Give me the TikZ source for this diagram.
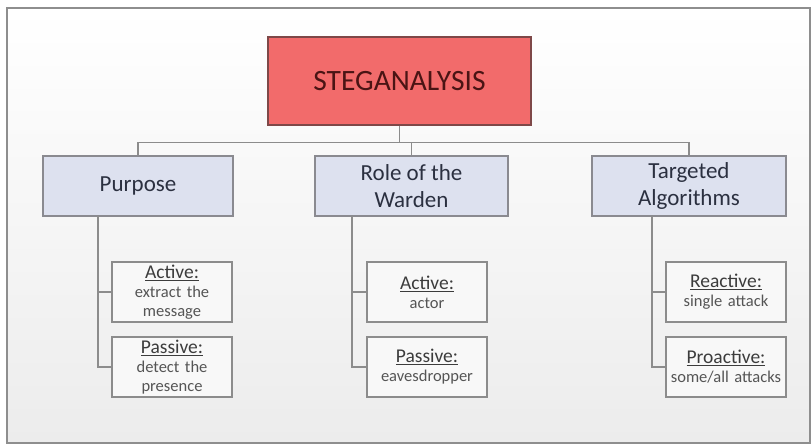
\documentclass[tikz,border=0pt]{standalone}
\usepackage{fontspec}
\setmainfont{Carlito}
\definecolor{titlefill}{HTML}{F26B6B}
\definecolor{titledraw}{HTML}{7E4848}
\definecolor{titletext}{HTML}{4A1414}
\definecolor{catfill}{HTML}{DDE1EF}
\definecolor{catdraw}{HTML}{8A8A90}
\definecolor{cattext}{HTML}{2B3040}
\definecolor{leaffill}{HTML}{F8F8F8}
\definecolor{leafdraw}{HTML}{8C8C8C}
\definecolor{leafhead}{HTML}{3C3C3C}
\definecolor{leafsub}{HTML}{555555}
\definecolor{linkgray}{HTML}{8C8C8C}
\definecolor{framegray}{HTML}{8E8E8E}
\definecolor{bglow}{HTML}{ECECEC}
\newcommand{\leafhd}[1]{{\fontsize{19.5}{19}\selectfont\color{leafhead}\underline{#1}}}
\tikzset{
  titlebox/.style={draw=titledraw, line width=1.6pt, fill=titlefill,
    minimum width=263pt, minimum height=88pt, inner sep=0pt,
    font=\fontsize{29.5}{35}\selectfont, text=titletext},
  catbox/.style={draw=catdraw, line width=1.4pt, fill=catfill,
    minimum height=60pt, inner sep=0pt, align=center,
    font=\fontsize{23}{27.5}\selectfont, text=cattext},
  leafbox/.style={draw=leafdraw, line width=1.3pt, fill=leaffill,
    minimum width=120pt, minimum height=60pt, inner sep=0pt,
    text width=118pt, align=center,
    font=\fontsize{16.5}{19}\selectfont, text=leafsub},
  link/.style={draw=linkgray, line width=1.3pt}
}
\begin{document}
\begin{tikzpicture}[x=1pt, y=-1pt]
  \useasboundingbox (0,0) rectangle (812,446);
  % framed panel with a soft vertical gradient
  \path[draw=framegray, line width=1.5pt, top color=white, bottom color=bglow]
    (7,8) rectangle (810,443);

  % root
  \node[titlebox] (root) at (399.5,81) {STEGANALYSIS};

  % categories
  \node[catbox, minimum width=190pt] (purp) at (138,186) {Purpose};
  \node[catbox, minimum width=193pt] (role) at (411.5,186) {Role of the\\Warden};
  \node[catbox, minimum width=194pt] (targ) at (689,186) {Targeted\\Algorithms};

  % leaves
  \node[leafbox] (pa) at (172,292) {\leafhd{Active:}\\extract the\\message};
  \node[leafbox] (pp) at (172,367) {\leafhd{Passive:}\\detect the\\presence};
  \node[leafbox] (ra) at (427,292) {\leafhd{Active:}\\actor};
  \node[leafbox] (rp) at (427,367) {\leafhd{Passive:}\\eavesdropper};
  \node[leafbox] (ta) at (726,292) {\leafhd{Reactive:}\\single attack};
  \node[leafbox] (tp) at (726,367) {\leafhd{Proactive:}\\some/all attacks};

  % root to categories
  \coordinate (bus) at (399.5,142.5);
  \draw[link] (root.south) -- (bus) -| (purp.north);
  \draw[link] (bus) -| (role.north);
  \draw[link] (bus) -| (targ.north);

  % categories to leaves
  \coordinate (pstem) at (98,216);
  \coordinate (rstem) at (352,216);
  \coordinate (tstem) at (652,216);
  \draw[link] (pstem) |- (pa.west);
  \draw[link] (pstem) |- (pp.west);
  \draw[link] (rstem) |- (ra.west);
  \draw[link] (rstem) |- (rp.west);
  \draw[link] (tstem) |- (ta.west);
  \draw[link] (tstem) |- (tp.west);
\end{tikzpicture}
\end{document}
